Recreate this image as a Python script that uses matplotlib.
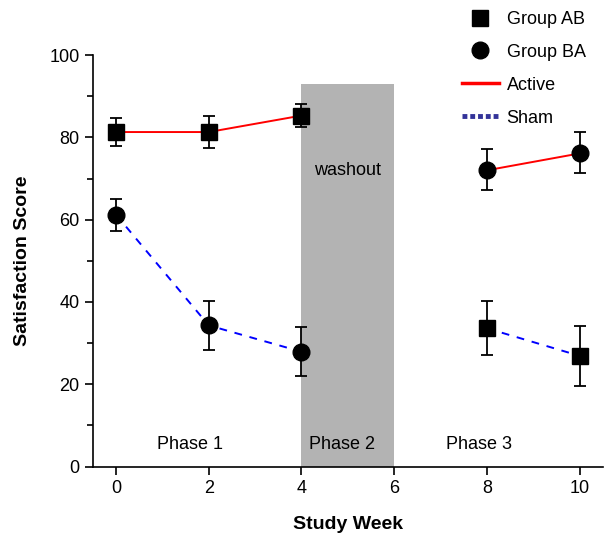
import matplotlib.pyplot as plt
from matplotlib.lines import Line2D

plt.rcParams['font.family'] = ['Liberation Sans', 'DejaVu Sans']

# weeks and scores
weeks_p1 = [0, 2, 4]
weeks_p3 = [8, 10]

ab_p1 = [81.3, 81.3, 85.3]
ab_p1_lo = [3.4, 4.0, 2.7]
ab_p1_hi = [3.3, 3.9, 2.9]

ba_p1 = [61.2, 34.3, 27.9]
ba_p1_lo = [4.0, 5.9, 6.0]
ba_p1_hi = [3.9, 6.0, 5.9]

ab_p3 = [33.6, 26.9]
ab_p3_lo = [6.5, 7.3]
ab_p3_hi = [6.6, 7.3]

ba_p3 = [72.0, 76.1]
ba_p3_lo = [4.9, 4.7]
ba_p3_hi = [5.1, 5.1]

washout = (4, 6, 93)

fig = plt.figure(figsize=(6.07, 5.35), dpi=100)
ax = fig.add_axes([0.153, 0.128, 0.84, 0.769])

ax.add_patch(plt.Rectangle((washout[0], 0), washout[1] - washout[0], washout[2],
                           facecolor='#b3b3b3', edgecolor='none', zorder=0))

# connecting lines
ax.plot(weeks_p1, ab_p1, color='red', lw=1.4, zorder=2)
ax.plot(weeks_p3, ba_p3, color='red', lw=1.4, zorder=2)
ax.plot(weeks_p1, ba_p1, color='blue', lw=1.4, ls=(0, (4, 4)), zorder=2)
ax.plot(weeks_p3, ab_p3, color='blue', lw=1.4, ls=(0, (4, 4)), zorder=2)

ekw = dict(fmt='none', ecolor='black', elinewidth=1.3, capsize=4, capthick=1.3, zorder=3)
ax.errorbar(weeks_p1, ab_p1, yerr=[ab_p1_lo, ab_p1_hi], **ekw)
ax.errorbar(weeks_p3, ab_p3, yerr=[ab_p3_lo, ab_p3_hi], **ekw)
ax.errorbar(weeks_p1, ba_p1, yerr=[ba_p1_lo, ba_p1_hi], **ekw)
ax.errorbar(weeks_p3, ba_p3, yerr=[ba_p3_lo, ba_p3_hi], **ekw)

ax.plot(weeks_p1 + weeks_p3, ab_p1 + ab_p3, 's', color='black', ms=11, zorder=4)
ax.plot(weeks_p1 + weeks_p3, ba_p1 + ba_p3, 'o', color='black', ms=12, zorder=4)

ax.text(5.0, 72, 'washout', fontsize=13, ha='center', va='center')
ax.text(1.6, 5.3, 'Phase 1', fontsize=13, ha='center', va='center')
ax.text(4.87, 5.3, 'Phase 2', fontsize=13, ha='center', va='center')
ax.text(7.83, 5.3, 'Phase 3', fontsize=13, ha='center', va='center')

ax.set_xlim(-0.5, 10.5)
ax.set_ylim(0, 100)
ax.set_xticks([0, 2, 4, 6, 8, 10])
ax.set_yticks([0, 20, 40, 60, 80, 100])
ax.set_yticks([10, 30, 50, 70, 90], minor=True)
ax.tick_params(axis='both', which='major', labelsize=13, length=6, width=1.2)
ax.tick_params(axis='y', which='minor', length=4, width=1.2)
for s in ['top', 'right']:
    ax.spines[s].set_visible(False)
for s in ['left', 'bottom']:
    ax.spines[s].set_linewidth(1.2)

ax.set_xlabel('Study Week', fontsize=14, fontweight='bold', labelpad=14)
ax.set_ylabel('Satisfaction Score', fontsize=14, fontweight='bold', labelpad=13)

handles = [
    Line2D([], [], marker='s', color='black', ls='none', ms=11),
    Line2D([], [], marker='o', color='black', ls='none', ms=12),
    Line2D([], [], color='red', lw=2.5),
    Line2D([], [], color='#333399', lw=3.5, ls=(0, (1, 0.6))),
]
fig.legend(handles, ['Group AB', 'Group BA', 'Active', 'Sham'],
           loc='upper left', bbox_to_anchor=(0.735, 1.01), frameon=False,
           fontsize=13, handlelength=2.0, labelspacing=0.88, handletextpad=0.45)

fig.savefig('out.png', dpi=100)
